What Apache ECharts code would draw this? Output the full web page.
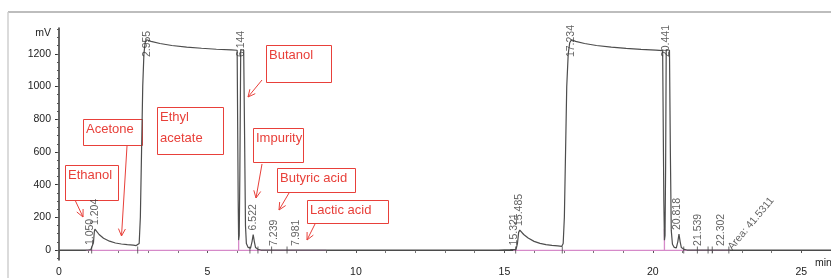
<!DOCTYPE html>
<html>
<head>
<meta charset="utf-8">
<script src="https://cdn.jsdelivr.net/npm/echarts@6/dist/echarts.min.js"></script>
<style>
  html, body { margin: 0; padding: 0; background: #fff; }
  #chart { width: 831px; height: 278px; }
</style>
</head>
<body>
<div id="chart"></div>
<script>
// detector trace, [minutes, mV] (two injections)
const trace = [
  [0, 0], [0.9, 0], [1.0, 1], [1.04, 8], [1.07, 2], [1.12, 4], [1.16, 45], [1.19, 112], [1.21, 128],
  [1.25, 118], [1.35, 95], [1.5, 72], [1.7, 54], [1.9, 43], [2.1, 37], [2.3, 33], [2.5, 30],
  [2.6, 27], [2.66, 24], [2.7, 40], [2.74, 200], [2.78, 600], [2.82, 1000], [2.86, 1200],
  [2.9, 1268], [2.95, 1286], [3.1, 1276], [3.4, 1263], [3.8, 1251], [4.3, 1241], [4.8, 1234],
  [5.3, 1228], [5.8, 1224], [6.0, 1222], [6.02, 1214], [6.035, 300], [6.05, 60], [6.07, 90],
  [6.09, 450], [6.12, 1226], [6.22, 1222], [6.25, 700], [6.28, 150], [6.31, 40], [6.37, 16],
  [6.45, 12], [6.5, 50], [6.54, 95], [6.58, 50], [6.62, 15], [6.7, 5], [6.8, 0],
  [14.8, 0], [15.2, 2], [15.32, 3], [15.36, 8], [15.39, 3], [15.44, 40], [15.48, 108],
  [15.52, 122], [15.56, 114], [15.65, 95], [15.8, 73], [16.0, 53], [16.2, 41], [16.4, 33],
  [16.6, 28], [16.8, 25], [16.93, 22], [16.98, 40], [17.02, 200], [17.06, 600], [17.1, 1000],
  [17.15, 1200], [17.2, 1268], [17.26, 1286], [17.4, 1276], [17.7, 1263], [18.1, 1251],
  [18.6, 1241], [19.1, 1233], [19.6, 1227], [20.1, 1223], [20.33, 1220], [20.35, 1212],
  [20.37, 300], [20.39, 60], [20.41, 90], [20.43, 500], [20.45, 1225], [20.56, 1222],
  [20.59, 600], [20.62, 120], [20.66, 35], [20.72, 16], [20.79, 13], [20.84, 50], [20.88, 97],
  [20.92, 50], [20.96, 15], [21.05, 4], [21.15, 0], [26, 0]
]

// integration baselines (magenta), null breaks the line
const baselines = [
  [0.9, -2], [9.0, -2], null,
  [6.05, 0], [6.05, 60], null,
  [15.3, -2], [22.6, -2], null,
  [20.39, 0], [20.39, 130]
]

// retention time labels and the height of the peak they sit on
const peakLabels = ['1.050', '1.204', '2.955', '6.144', '6.522', '7.239', '7.981',
  '15.321', '15.485', '17.234', '20.441', '20.818', '21.539', '22.302']
const peakHeights = [5, 128, 1286, 1225, 95, 0, 0, 3, 122, 1286, 1225, 97, 0, 0]

// peak start / end marks on the baseline
const markTimes = [1.1, 2.65, 6.43, 6.7, 7.16, 7.68, 15.38, 16.95, 21.04, 21.5, 21.86, 22.0, 22.56]

const areaLabel = ['Area: 41.5311']
const areaTime = [22.6]

const red = '#e8403a'
const font = '"Liberation Sans", Arial, sans-serif'

function box(x, y, w, h, lines) {
  const els = [{
    type: 'rect',
    shape: { x: x + 0.5, y: y + 0.5, width: w, height: h },
    style: { fill: '#fff', stroke: red, lineWidth: 1 }
  }]
  lines.forEach((t, i) => {
    els.push({
      type: 'text',
      x: x + 3, y: y + 10 + i * 21,
      style: { text: t, fill: red, font: '13px ' + font, verticalAlign: 'middle' }
    })
  })
  return { type: 'group', z: 100, children: els }
}

function arrow(x1, y1, x2, y2) {
  const a = Math.atan2(y2 - y1, x2 - x1)
  const L = 8
  const h1 = [x2 - L * Math.cos(a - 0.45), y2 - L * Math.sin(a - 0.45)]
  const h2 = [x2 - L * Math.cos(a + 0.45), y2 - L * Math.sin(a + 0.45)]
  return {
    type: 'group', z: 100,
    children: [
      { type: 'line', shape: { x1, y1, x2, y2 }, style: { stroke: red, lineWidth: 1 } },
      { type: 'polyline', shape: { points: [h1, [x2, y2], h2] }, style: { stroke: red, lineWidth: 1, fill: null } }
    ]
  }
}

const yMajor = [0, 200, 400, 600, 800, 1000, 1200]
const yMinor = []
for (let v = -50; v <= 1350; v += 50) yMinor.push(v)

const chart = echarts.init(document.getElementById('chart'))
chart.setOption({
  animation: false,
  backgroundColor: '#fff',
  textStyle: { fontFamily: font },
  grid: { left: 59, right: 0, top: 28, bottom: 18, outerBoundsMode: 'none', containLabel: false },
  xAxis: {
    type: 'value',
    min: 0,
    max: 26,
    interval: 5,
    name: 'min',
    nameLocation: 'end',
    nameGap: -16,
    nameTextStyle: { color: '#222', fontSize: 10.5, align: 'left', verticalAlign: 'top', padding: [8, 0, 0, 0] },
    axisLine: { lineStyle: { color: '#444', width: 1 } },
    axisTick: { length: 3, lineStyle: { color: '#555' } },
    minorTick: { show: true, splitNumber: 5, length: 3, lineStyle: { color: '#777' } },
    axisLabel: { color: '#222', fontSize: 10.5, margin: 7, showMaxLabel: false,
      formatter: v => (v >= 26 ? '' : String(v)) },
    splitLine: { show: false }
  },
  yAxis: [{
    type: 'value',
    min: -61,
    max: 1358,
    name: 'mV',
    nameLocation: 'end',
    nameGap: -5,
    nameTextStyle: { color: '#222', fontSize: 10.5, align: 'right', verticalAlign: 'middle', padding: [0, 8, 0, 0] },
    axisLine: { show: true, lineStyle: { color: '#333', width: 1.5 } },
    axisTick: { show: true, length: 4, customValues: yMajor, lineStyle: { color: '#333' } },
    axisLabel: { color: '#222', fontSize: 10.5, margin: 8, customValues: yMajor,
      formatter: v => String(v) },
    splitLine: { show: false }
  }, {
    type: 'value',
    min: -61,
    max: 1358,
    position: 'left',
    axisLine: { show: false },
    axisTick: { show: true, length: 2, customValues: yMinor, lineStyle: { color: '#555' } },
    axisLabel: { show: false },
    splitLine: { show: false }
  }],
  series: [{
    type: 'line',
    data: baselines,
    symbol: 'none',
    connectNulls: false,
    clip: false,
    lineStyle: { color: '#d68ac9', width: 1.3 },
    z: 1
  }, {
    type: 'line',
    data: trace,
    symbol: 'none',
    clip: false,
    lineStyle: { color: '#4d4d4d', width: 1.2 },
    z: 2
  }, {
    type: 'scatter',
    data: markTimes.map(t => [t, 0]),
    symbol: 'rect',
    symbolSize: [1, 7],
    itemStyle: { color: '#444' },
    z: 3
  }, {
    type: 'scatter',
    data: peakLabels.map((s, i) => [parseFloat(s), Math.min(peakHeights[i] + 25, 1180), s]),
    symbolSize: 0,
    label: {
      show: true, position: 'top', distance: 0, rotate: 90,
      align: 'left', verticalAlign: 'middle',
      color: '#3a3a3a', fontSize: 10.5,
      formatter: p => p.data[2]
    },
    z: 4
  }, {
    type: 'scatter',
    data: areaLabel.map((s, i) => [areaTime[i], 8, s]),
    symbolSize: 0,
    label: {
      show: true, position: 'top', distance: 0, rotate: 50,
      align: 'left', verticalAlign: 'middle',
      color: '#3a3a3a', fontSize: 10.5,
      formatter: p => p.data[2]
    },
    z: 4
  }],
  graphic: [
    { type: 'line', shape: { x1: 8, y1: 12, x2: 831, y2: 12 },
      style: { stroke: '#bdbdbd', lineWidth: 2 }, silent: true },
    { type: 'line', shape: { x1: 8, y1: 12, x2: 8, y2: 278 },
      style: { stroke: '#cfcfcf', lineWidth: 1.5 }, silent: true },
    box(65, 165, 53, 35, ['Ethanol']),
    box(83, 119, 59, 26, ['Acetone']),
    box(157, 107, 66, 47, ['Ethyl', 'acetate']),
    box(266, 45, 65, 37, ['Butanol']),
    box(253, 128, 50, 34, ['Impurity']),
    box(277, 168, 78, 24, ['Butyric acid']),
    box(307, 200, 81, 23, ['Lactic acid']),
    arrow(75, 200, 83, 217),
    arrow(127, 146, 121.5, 236),
    arrow(262, 80, 248, 97),
    arrow(262, 164, 256, 198),
    arrow(289, 193, 279, 210),
    arrow(315, 224, 307, 240)
  ]
})
</script>
</body>
</html>
